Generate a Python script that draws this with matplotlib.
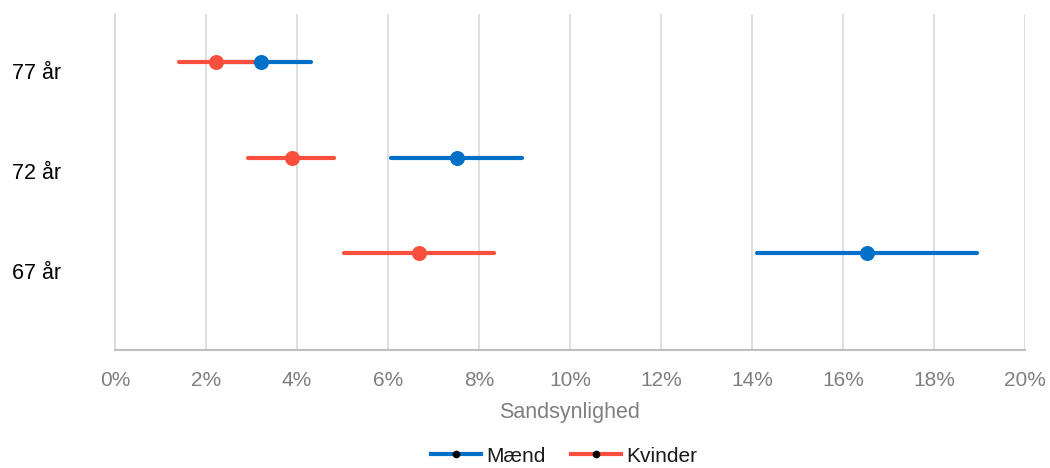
import matplotlib
matplotlib.use("Agg")
import matplotlib.pyplot as plt
from matplotlib.lines import Line2D
from matplotlib.ticker import FuncFormatter

plt.rcParams['font.family'] = ['Liberation Sans', 'DejaVu Sans']

categories = ["67 år", "72 år", "77 år"]
maend_point = [16.52, 7.51, 3.21]
maend_low = [14.12, 6.07, 2.40]
maend_high = [18.95, 8.95, 4.30]
kvinder_point = [6.69, 3.88, 2.22]
kvinder_low = [5.03, 2.93, 1.41]
kvinder_high = [8.34, 4.82, 3.07]
xticks = [0, 2, 4, 6, 8, 10, 12, 14, 16, 18, 20]

blue = "#0070C8"
red = "#F94F3C"
grid_c = "#D9D9D9"
text_gray = "#7F7F7F"

fig = plt.figure(figsize=(10.5, 4.68), dpi=100)
ax = fig.add_axes([115/1050, 1-350/468, 910/1050, 336/468])

ypos = list(range(len(categories)))

# error lines
for y, lo, hi in zip(ypos, maend_low, maend_high):
    ax.plot([lo, hi], [y, y], color=blue, lw=3.0, solid_capstyle='round', zorder=3)
for y, lo, hi in zip(ypos, kvinder_low, kvinder_high):
    ax.plot([lo, hi], [y, y], color=red, lw=3.0, solid_capstyle='round', zorder=4)
ax.plot(kvinder_point, ypos, 'o', color=red, ms=10.8, mew=0, zorder=5, ls='none')
ax.plot(maend_point, ypos, 'o', color=blue, ms=10.8, mew=0, zorder=6, ls='none')

ax.set_xlim(0, 20)
ax.set_ylim(-1.016, 2.503)
ax.set_xticks(xticks)
ax.xaxis.set_major_formatter(FuncFormatter(lambda v, p: f"{v:.0f}%"))
ax.tick_params(axis='x', length=0, pad=15, labelsize=15, labelcolor=text_gray)
ax.grid(axis='x', color=grid_c, lw=1.2, zorder=0)
ax.set_axisbelow(True)

# y labels (offset slightly below the points as in the reference)
ax.set_yticks([-0.188, 0.859, 1.906])
ax.set_yticklabels(categories)
ax.tick_params(axis='y', length=0, pad=0, labelsize=15.5, labelcolor='black')
for lab in ax.get_yticklabels():
    lab.set_horizontalalignment('left')
    lab.set_x(-103/910)

for s in ['top', 'right']:
    ax.spines[s].set_visible(False)
ax.spines['left'].set_color(grid_c)
ax.spines['left'].set_linewidth(1.2)
ax.spines['bottom'].set_color("#BFBFBF")
ax.spines['bottom'].set_linewidth(1.5)

ax.set_xlabel("Sandsynlighed", fontsize=15.5, color=text_gray, labelpad=9)

handles = [
    Line2D([], [], color=blue, lw=3, marker='o', ms=4.5, mfc='black', mec='black'),
    Line2D([], [], color=red, lw=3, marker='o', ms=4.5, mfc='black', mec='black'),
]
fig.legend(handles, ["Mænd", "Kvinder"], loc='center', bbox_to_anchor=(564/1050, 1-456/468),
           ncol=2, frameon=False, fontsize=15, handlelength=2.4, handletextpad=0.25,
           columnspacing=1.2, labelcolor='#1a1a1a', borderpad=0.2)

fig.savefig("out.png", dpi=100)
